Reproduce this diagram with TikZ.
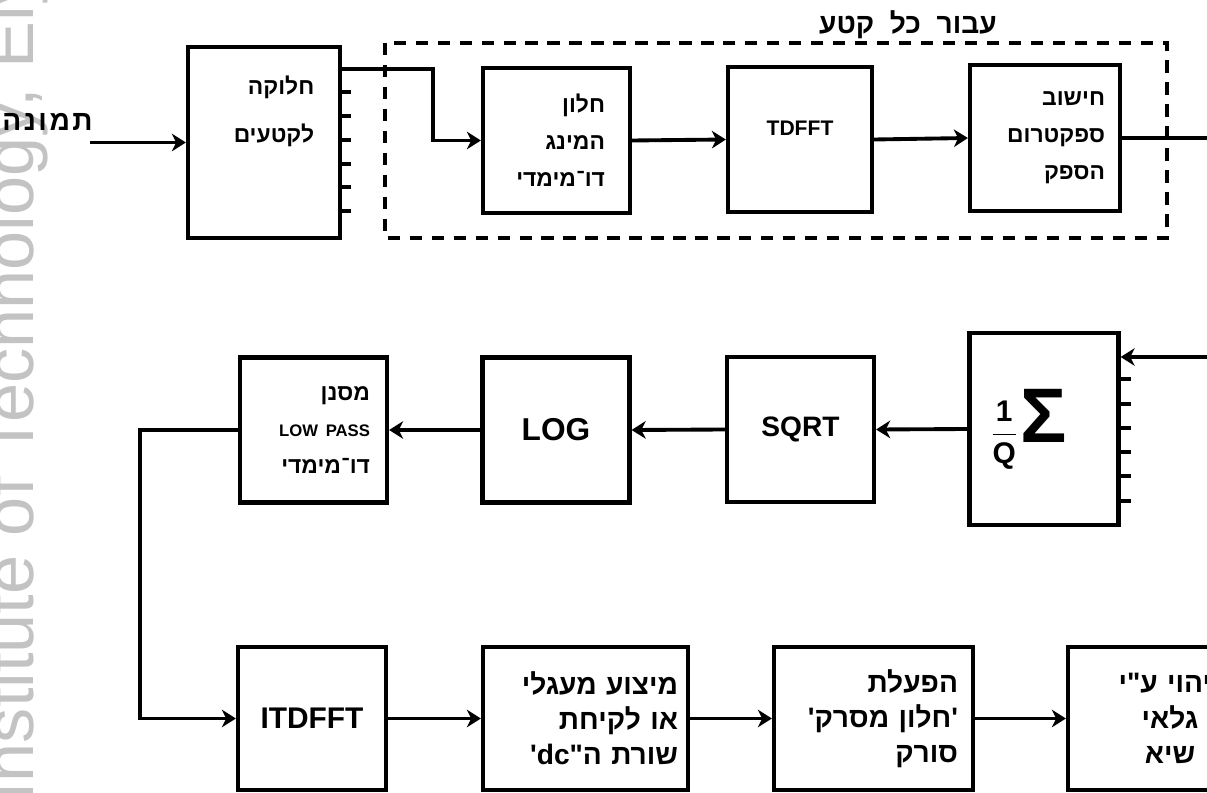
\documentclass[tikz,border=0pt]{standalone}
\usepackage{fontspec}
\usepackage{amsmath}
\setmainfont{Liberation Sans}
\newfontfamily\hebfont[Script=Hebrew]{Liberation Sans}
\newfontfamily\hebwide[Script=Hebrew, LetterSpace=9]{Liberation Sans}
\TeXXeTstate=1
\usepackage{tikz}
\usetikzlibrary{arrows.meta, positioning, calc}
\definecolor{ink}{RGB}{0,0,0}
\definecolor{stampgray}{RGB}{195,195,195}
\newcommand{\heb}[1]{{\hebfont\beginR #1\endR}}

\tikzset{
  blk/.style={draw=ink, line width=2.4pt, minimum width=2.94cm, minimum height=2.9cm,
              inner sep=0pt, align=right, font=\bfseries\fontsize{13}{21}\selectfont},
  blkwide/.style={blk, minimum height=2.86cm, font=\bfseries\fontsize{16}{20}\selectfont},
  latin/.style={align=center, font=\bfseries\fontsize{16}{18}\selectfont},
  arr/.style={draw=ink, line width=2.2pt, -{Stealth[length=8pt,width=10pt,inset=2.5pt]}},
  wire/.style={draw=ink, line width=2.2pt},
  tick/.style={draw=ink, line width=2.2pt},
  group/.style={draw=ink, line width=2.2pt, dash pattern=on 7pt off 5.5pt},
}

\begin{document}
\begin{tikzpicture}
    \useasboundingbox (0,0) rectangle (24.14,15.84);
    \clip (0,0) rectangle (24.14,15.84);

    % --- carimbo (marca d'agua) ---
    \node[rotate=90, anchor=base west, inner sep=0pt, text=stampgray,
          font=\fontsize{40}{40}\selectfont] (stamp) at (0.66,-0.2) {Institute of Technology, Ely};

    % --- linha de cima ---
    \node[blk, minimum width=3.04cm, minimum height=3.82cm] (split) at (5.28,12.99) {};
    \node[anchor=north east, inner sep=0pt, align=right,
          font=\bfseries\fontsize{13}{27}\selectfont] (splittxt)
          at ([xshift=-0.55cm, yshift=-0.62cm]split.north east) {\heb{חלוקה}\\\heb{לקטעים}};
    \node[blk, text width=1.94cm] (hamming) at (11.13,13.03) {\heb{חלון}\\\heb{המינג}\\\heb{דו־מימדי}};
    \node[blk, latin, minimum width=2.88cm, text depth=0.45cm,
          font=\bfseries\fontsize{12}{14}\selectfont] (tdfft) at (16.0,13.05) {TDFFT};
    \node[blk, minimum width=3.0cm, minimum height=2.92cm, text width=2.4cm] (power) at (20.9,13.08)
          {\heb{חישוב}\\\heb{ספקטרום}\\\heb{הספק}};

    % bloco tracejado
    \draw[group] (7.7,14.98) rectangle (23.34,11.08);
    \node[anchor=base east, inner sep=0pt, font=\bfseries\fontsize{16}{18}\selectfont] (grouplbl)
          at (19.94,15.16) {\heb{עבור~~כל~~קטע}};

    % entrada
    \coordinate (imgin) at (1.8,0 |- split.west);
    \node[anchor=base east, inner sep=0pt, font=\bfseries\fontsize{16}{18}\selectfont] (imglbl)
          at (1.86,13.22) {{\hebwide\beginR תמונה\endR}};
    \draw[arr] (imgin) -- (split.west);

    \coordinate (bend) at (hamming.west -| 8.66,0);
    \draw[arr] ([yshift=-0.475cm]split.north east) -| (bend) -- (hamming.west);
    \foreach \k in {2,...,7}
      \draw[tick] ([yshift=-\k*0.475cm]split.north east) -- ++(0.18,0);
    \draw[arr] (hamming.east) -- (tdfft.west);
    \draw[arr] (tdfft.east) -- (power.west);
    \coordinate (specout) at (24.4,0 |- power.east);
    \draw[wire] (power.east) -- (specout);

    % --- linha do meio ---
    \node[blk, minimum width=2.98cm, minimum height=3.84cm, text width=2.14cm, align=left,
          font=\bfseries] (avgsum) at (20.88,7.26)
          {{\fontsize{17}{17}\selectfont$\dfrac{\mathbf{1}}{\mathbf{Q}}$}\,{\fontsize{44}{44}\selectfont Σ}};
    \node[blk, latin] (sqrtblk) at (16.01,7.25) {SQRT};
    \node[blk, latin, font=\bfseries\fontsize{18}{20}\selectfont] (logblk) at (11.12,7.24) {LOG};
    \node[blk, text width=2.26cm] (lowpass) at (6.27,7.24)
          {\heb{מסנן}\\{\fontsize{9.5}{11}\selectfont LOW PASS}\hspace*{0.26cm}\\\heb{דו־מימדי}};

    \coordinate (sumin) at (24.4,8.70);
    \draw[arr] (sumin) -- (sumin -| avgsum.east);
    \foreach \k in {2,...,7}
      \draw[tick] ([yshift=-\k*0.485cm]avgsum.north east) -- ++(0.2,0);
    \draw[arr] (avgsum.west) -- (sqrtblk.east);
    \draw[arr] (sqrtblk.west) -- (logblk.east);
    \draw[arr] (logblk.west) -- (lowpass.east);

    % --- linha de baixo ---
    \node[blk, latin, minimum width=2.96cm, minimum height=2.86cm,
          font=\bfseries\fontsize{17}{19}\selectfont] (itdfft) at (6.24,1.47) {ITDFFT};
    \node[blkwide, minimum width=4.1cm, text width=3.7cm] (circavg) at (11.71,1.47)
          {\heb{מיצוע מעגלי}\\\heb{או לקיחת}\\\heb{שורת ה"\beginL dc\endL'}};
    \node[blkwide, minimum width=3.98cm, text width=3.38cm] (comb) at (17.47,1.47)
          {\heb{הפעלת}\\\heb{'חלון מסרק'}\\\heb{סורק}};
    \node[blkwide, minimum width=4.08cm, text width=3.6cm, align=center] (peak) at (23.4,1.47)
          {\heb{זיהוי ע"י}\\\heb{גלאי}\\\heb{שיא}};

    \coordinate (loopback) at (2.8,0 |- lowpass.west);
    \draw[arr] (lowpass.west) -- (loopback) |- (itdfft.west);
    \draw[arr] (itdfft.east) -- (circavg.west);
    \draw[arr] (circavg.east) -- (comb.west);
    \draw[arr] (comb.east) -- (peak.west);
\end{tikzpicture}
\end{document}
